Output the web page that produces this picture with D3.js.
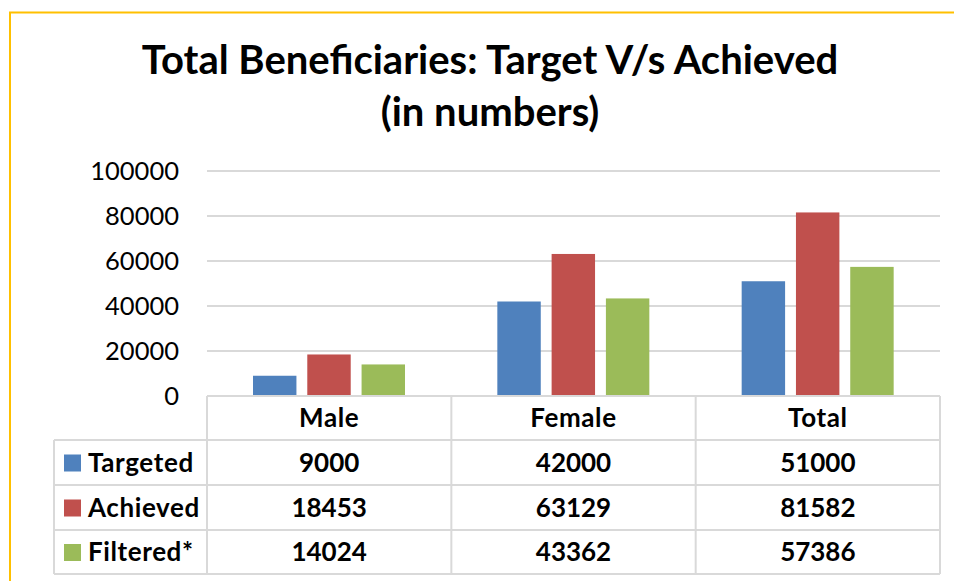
<!DOCTYPE html>
<html>
<head>
    <title>Total Beneficiaries</title>
    <style>
        body { margin: 0; background: #fff; }
        text { font-family: Lato, "Open Sans", sans-serif; }
    </style>
</head>
<body>
    <script src="https://d3js.org/d3.v7.min.js"></script>
    <script>
        // chart data
        const categories = ['Male', 'Female', 'Total'];
        const seriesNames = ['Targeted', 'Achieved', 'Filtered*'];
        const targeted = [9000, 42000, 51000];
        const achieved = [18453, 63129, 81582];
        const filtered = [14024, 43362, 57386];
        const yTicks = [0, 20000, 40000, 60000, 80000, 100000];
        const colors = ['#4F81BD', '#C0504D', '#9BBB59'];

        const series = [targeted, achieved, filtered];

        const width = 954, height = 581;
        const plot = { left: 207, right: 940, top: 171, bottom: 396 };
        const tableFont = 26;

        const svg = d3.select('body')
            .append('svg')
            .attr('width', width)
            .attr('height', height);

        // gold frame (only top and left visible)
        svg.append('path')
            .attr('d', `M10,${height} L10,12.5 L${width},12.5`)
            .attr('fill', 'none')
            .attr('stroke', '#FFC000')
            .attr('stroke-width', 2);

        // title
        const title = svg.append('text')
            .attr('x', 490)
            .attr('text-anchor', 'middle')
            .attr('font-weight', 'bold')
            .attr('font-size', 40)
            .attr('fill', '#000');
        title.append('tspan').attr('x', 490).attr('y', 74).text('Total Beneficiaries: Target V/s Achieved');
        title.append('tspan').attr('x', 490).attr('y', 126).text('(in numbers)');

        const y = d3.scaleLinear()
            .domain([0, 100000])
            .range([plot.bottom, plot.top]);

        const x0 = d3.scaleBand()
            .domain(categories)
            .range([plot.left, plot.right]);

        const x1 = d3.scaleBand()
            .domain(seriesNames)
            .range([46, 198])
            .paddingInner(0.2);

        // gridlines
        svg.append('g')
            .selectAll('line')
            .data(yTicks.filter(d => d > 0))
            .enter()
            .append('line')
            .attr('x1', plot.left)
            .attr('x2', plot.right)
            .attr('y1', d => y(d))
            .attr('y2', d => y(d))
            .attr('stroke', '#D9D9D9')
            .attr('stroke-width', 2);

        // y axis labels
        const yAxis = svg.append('g')
            .attr('transform', `translate(179,0)`)
            .call(d3.axisLeft(y).tickValues(yTicks).tickSize(0).tickPadding(0).tickFormat(d3.format('d')));
        yAxis.select('.domain').remove();
        yAxis.selectAll('text')
            .attr('font-size', 25.5)
            .attr('font-family', 'Lato, "Open Sans", sans-serif')
            .attr('fill', '#000');

        // bars
        const groups = svg.append('g')
            .selectAll('g')
            .data(categories)
            .enter()
            .append('g')
            .attr('transform', c => `translate(${x0(c)},0)`);

        groups.selectAll('rect')
            .data((c, ci) => seriesNames.map((s, si) => ({ s, si, v: series[si][ci] })))
            .enter()
            .append('rect')
            .attr('x', d => x1(d.s))
            .attr('width', x1.bandwidth())
            .attr('y', d => y(d.v))
            .attr('height', d => y(0) - y(d.v))
            .attr('fill', d => colors[d.si]);

        // data table
        const rows = [plot.bottom, 440, 485, 530, 574];
        const tableLeft = 54;
        const table = svg.append('g')
            .attr('stroke', '#D9D9D9')
            .attr('stroke-width', 2)
            .attr('fill', 'none');

        // horizontal lines
        rows.forEach((ry, i) => {
            table.append('line')
                .attr('x1', i === 0 ? plot.left : tableLeft)
                .attr('x2', plot.right)
                .attr('y1', ry)
                .attr('y2', ry);
        });
        // vertical lines
        table.append('line')
            .attr('x1', tableLeft).attr('x2', tableLeft)
            .attr('y1', rows[1]).attr('y2', rows[4]);
        [plot.left, ...categories.map(c => x0(c) + x0.bandwidth())].forEach(vx => {
            table.append('line')
                .attr('x1', vx).attr('x2', vx)
                .attr('y1', rows[0]).attr('y2', rows[4]);
        });

        // header labels
        svg.append('g')
            .selectAll('text')
            .data(categories)
            .enter()
            .append('text')
            .attr('x', c => x0(c) + x0.bandwidth() / 2)
            .attr('y', (rows[0] + rows[1]) / 2 + 9)
            .attr('text-anchor', 'middle')
            .attr('font-weight', 'bold')
            .attr('font-size', tableFont)
            .attr('letter-spacing', 0.6)
            .text(c => c);

        // row labels with legend keys
        seriesNames.forEach((s, si) => {
            const cy = (rows[si + 1] + rows[si + 2]) / 2;
            svg.append('rect')
                .attr('x', 64)
                .attr('y', cy - 8)
                .attr('width', 17)
                .attr('height', 17)
                .attr('fill', colors[si]);
            svg.append('text')
                .attr('x', 88)
                .attr('y', cy + 9)
                .attr('font-weight', 'bold')
                .attr('font-size', tableFont)
                .attr('letter-spacing', 0.6)
                .text(s);
            svg.append('g')
                .selectAll('text')
                .data(categories)
                .enter()
                .append('text')
                .attr('x', c => x0(c) + x0.bandwidth() / 2)
                .attr('y', cy + 9)
                .attr('text-anchor', 'middle')
                .attr('font-weight', 'bold')
                .attr('font-size', tableFont)
                .text((c, ci) => series[si][ci]);
        });
    </script>
</body>
</html>
